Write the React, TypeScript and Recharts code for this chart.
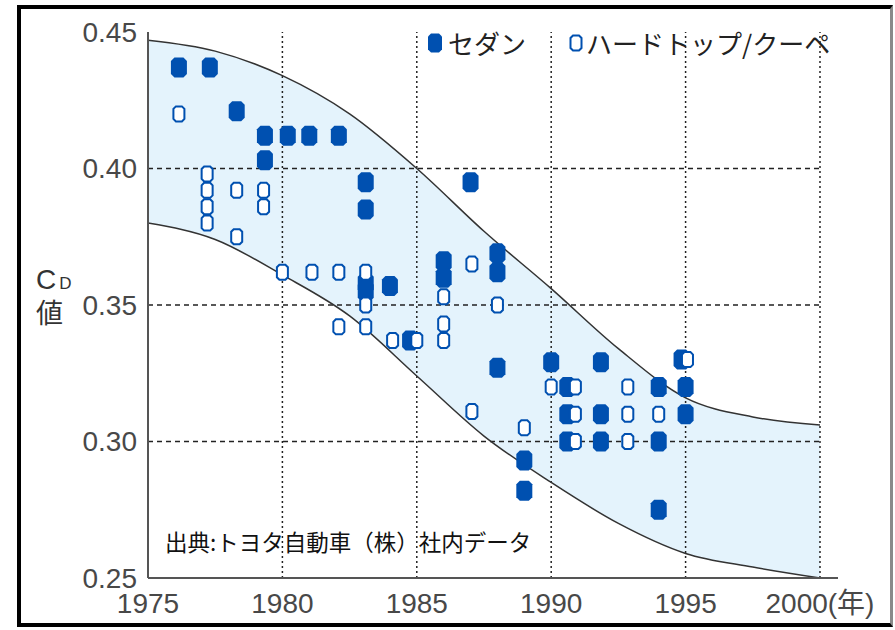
import { ComposedChart, Area, Line, Scatter, XAxis, YAxis, ReferenceLine } from 'recharts';

// band (upper / lower envelope)
const bandYears = [1975, 1977.5, 1980, 1982.5, 1985, 1987.5, 1990, 1992.5, 1995, 1997.5, 2000];
const bandUpper = [0.447, 0.443, 0.434, 0.42, 0.4, 0.377, 0.356, 0.334, 0.316, 0.309, 0.306];
const bandLower = [0.38, 0.374, 0.361, 0.346, 0.324, 0.302, 0.285, 0.27, 0.259, 0.254, 0.25];

// セダン
const sedanYears = [
  1976.15, 1977.3, 1978.3, 1979.35, 1979.35, 1980.2, 1981.0, 1982.1, 1983.1, 1983.1, 1983.1, 1983.1,
  1984.0, 1984.75, 1986.0, 1986.0, 1987.0, 1988.0, 1988.0, 1988.0, 1989.0, 1989.0, 1990.0, 1990.6,
  1990.6, 1990.6, 1991.85, 1991.85, 1991.85, 1994.0, 1994.0, 1994.0, 1994.85, 1995.0, 1995.0,
];
const sedanCd = [
  0.437, 0.437, 0.421, 0.412, 0.403, 0.412, 0.412, 0.412, 0.395, 0.385, 0.358, 0.355,
  0.357, 0.337, 0.366, 0.36, 0.395, 0.369, 0.362, 0.327, 0.293, 0.282, 0.329, 0.32,
  0.31, 0.3, 0.329, 0.31, 0.3, 0.32, 0.3, 0.275, 0.33, 0.32, 0.31,
];

// ハードトップ/クーペ
const hardtopYears = [
  1976.15, 1977.2, 1977.2, 1977.2, 1977.2, 1978.3, 1978.3, 1979.3, 1979.3, 1980.0, 1981.1, 1982.1,
  1983.1, 1983.1, 1982.1, 1983.1, 1984.1, 1985.0, 1986.0, 1986.0, 1986.0, 1987.05, 1987.05, 1988.0,
  1989.0, 1990.0, 1990.9, 1990.9, 1990.9, 1992.85, 1992.85, 1992.85, 1994.0, 1995.07,
];
const hardtopCd = [
  0.42, 0.398, 0.392, 0.386, 0.38, 0.392, 0.375, 0.392, 0.386, 0.362, 0.362, 0.362,
  0.362, 0.35, 0.342, 0.342, 0.337, 0.337, 0.353, 0.343, 0.337, 0.365, 0.311, 0.35,
  0.305, 0.32, 0.32, 0.31, 0.3, 0.32, 0.31, 0.3, 0.31, 0.33,
];

const xTicks = [1975, 1980, 1985, 1990, 1995, 2000];
const yTicks = [0.25, 0.3, 0.35, 0.4, 0.45];
const xGrid = [1980, 1985, 1990, 1995, 2000];
const yGrid = [0.3, 0.35, 0.4];

const bandData = bandYears.map((year, i) => ({
  year,
  band: [bandLower[i], bandUpper[i]],
  upper: bandUpper[i],
  lower: bandLower[i],
}));
const sedanData = sedanYears.map((year, i) => ({ year, cd: sedanCd[i] }));
const hardtopData = hardtopYears.map((year, i) => ({ year, cd: hardtopCd[i] }));

const BLUE = '#0050b0';
const tickFont = { fill: '#484848', fontSize: 28, fontFamily: 'Liberation Sans, Noto Sans CJK JP' };

const octagon = (cx: number, cy: number, hw: number, hh: number, c: number) =>
  `M${cx - hw + c},${cy - hh} L${cx + hw - c},${cy - hh} L${cx + hw},${cy - hh + c} L${cx + hw},${cy + hh - c} ` +
  `L${cx + hw - c},${cy + hh} L${cx - hw + c},${cy + hh} L${cx - hw},${cy + hh - c} L${cx - hw},${cy - hh + c} Z`;

const SedanMark = ({ cx, cy }: any) => <path d={octagon(cx, cy, 8, 10, 3.5)} fill={BLUE} />;
const HardtopMark = ({ cx, cy }: any) => (
  <path d={octagon(cx, cy, 5.5, 7.5, 2.5)} fill="#fff" stroke={BLUE} strokeWidth={2} />
);

export default function App() {
  return (
    <div style={{ position: 'absolute', left: 0, top: 0, width: 895, height: 630, background: '#fff' }}>
      <ComposedChart
        width={895}
        height={630}
        data={bandData}
        margin={{ top: 32, right: 57, bottom: 12, left: 58 }}
      >
        <XAxis
          type="number"
          dataKey="year"
          domain={[1975, 2000.67]}
          ticks={xTicks}
          interval={0}
          allowDataOverflow
          height={40}
          tickSize={0}
          tickMargin={15}
          tick={tickFont}
          tickFormatter={(v: number) => (v === 2000 ? '2000(年)' : String(v))}
          axisLine={{ stroke: '#555', strokeWidth: 2 }}
        />
        <YAxis
          type="number"
          domain={[0.25, 0.45]}
          ticks={yTicks}
          interval={0}
          width={90}
          tickSize={0}
          tickMargin={11}
          tick={tickFont}
          tickFormatter={(v: number) => v.toFixed(2)}
          axisLine={{ stroke: '#555', strokeWidth: 2 }}
        />
        <Area
          type="monotone"
          dataKey="band"
          fill="#e4f3fc"
          fillOpacity={1}
          stroke="none"
          isAnimationActive={false}
        />
        {xGrid.map((v) => (
          <ReferenceLine key={'x' + v} x={v} stroke="#222" strokeWidth={1.5} strokeDasharray="2 3" />
        ))}
        {yGrid.map((v) => (
          <ReferenceLine
            key={'y' + v}
            segment={[{ x: 1975, y: v }, { x: 2000, y: v }]}
            stroke="#222"
            strokeWidth={1.5}
            strokeDasharray="5 4"
          />
        ))}
        <Line type="monotone" dataKey="upper" stroke="#333" strokeWidth={1.5} dot={false} activeDot={false} isAnimationActive={false} />
        <Line type="monotone" dataKey="lower" stroke="#333" strokeWidth={1.5} dot={false} activeDot={false} isAnimationActive={false} />
        <Scatter data={sedanData} dataKey="cd" shape={SedanMark} isAnimationActive={false} />
        <Scatter data={hardtopData} dataKey="cd" shape={HardtopMark} isAnimationActive={false} />
      </ComposedChart>

      {/* legend */}
      <div
        style={{
          position: 'absolute',
          left: 427,
          top: 30,
          height: 26,
          display: 'flex',
          alignItems: 'center',
          fontFamily: 'Noto Sans CJK JP',
          fontSize: 26,
          lineHeight: '26px',
          color: '#222',
          whiteSpace: 'nowrap',
        }}
      >
        <svg width={16} height={20} style={{ marginRight: 5 }}>
          <path d={octagon(8, 10, 7, 9.5, 3)} fill={BLUE} />
        </svg>
        <span>セダン</span>
        <svg width={16} height={20} style={{ marginLeft: 42, marginRight: 2 }}>
          <path d={octagon(8, 10, 5.5, 7.5, 2.5)} fill="#fff" stroke={BLUE} strokeWidth={2} />
        </svg>
        <span>ハードトップ/クーペ</span>
      </div>

      {/* y label */}
      <div style={{ position: 'absolute', left: 36, top: 267, height: 25, fontFamily: 'Liberation Sans', fontSize: 28, lineHeight: '25px', color: '#333', whiteSpace: 'nowrap' }}>
        C<span style={{ fontSize: 17, lineHeight: '17px', marginLeft: 3 }}>D</span>
      </div>
      <div style={{ position: 'absolute', left: 36, top: 298, fontFamily: 'Noto Sans CJK JP', fontSize: 27, lineHeight: '27px', color: '#333' }}>
        値
      </div>

      {/* source note */}
      <div style={{ position: 'absolute', left: 165, top: 530, fontFamily: 'Noto Sans CJK JP', fontSize: 22.5, lineHeight: '22.5px', color: '#111', whiteSpace: 'nowrap' }}>
        出典:トヨタ自動車（株）社内データ
      </div>

      {/* frame */}
      <div
        style={{
          position: 'absolute',
          left: 17,
          top: 5,
          width: 876,
          height: 622,
          boxSizing: 'border-box',
          border: '4px solid #000',
          borderRight: '3px solid #8a8a8a',
          pointerEvents: 'none',
        }}
      />
    </div>
  );
}
